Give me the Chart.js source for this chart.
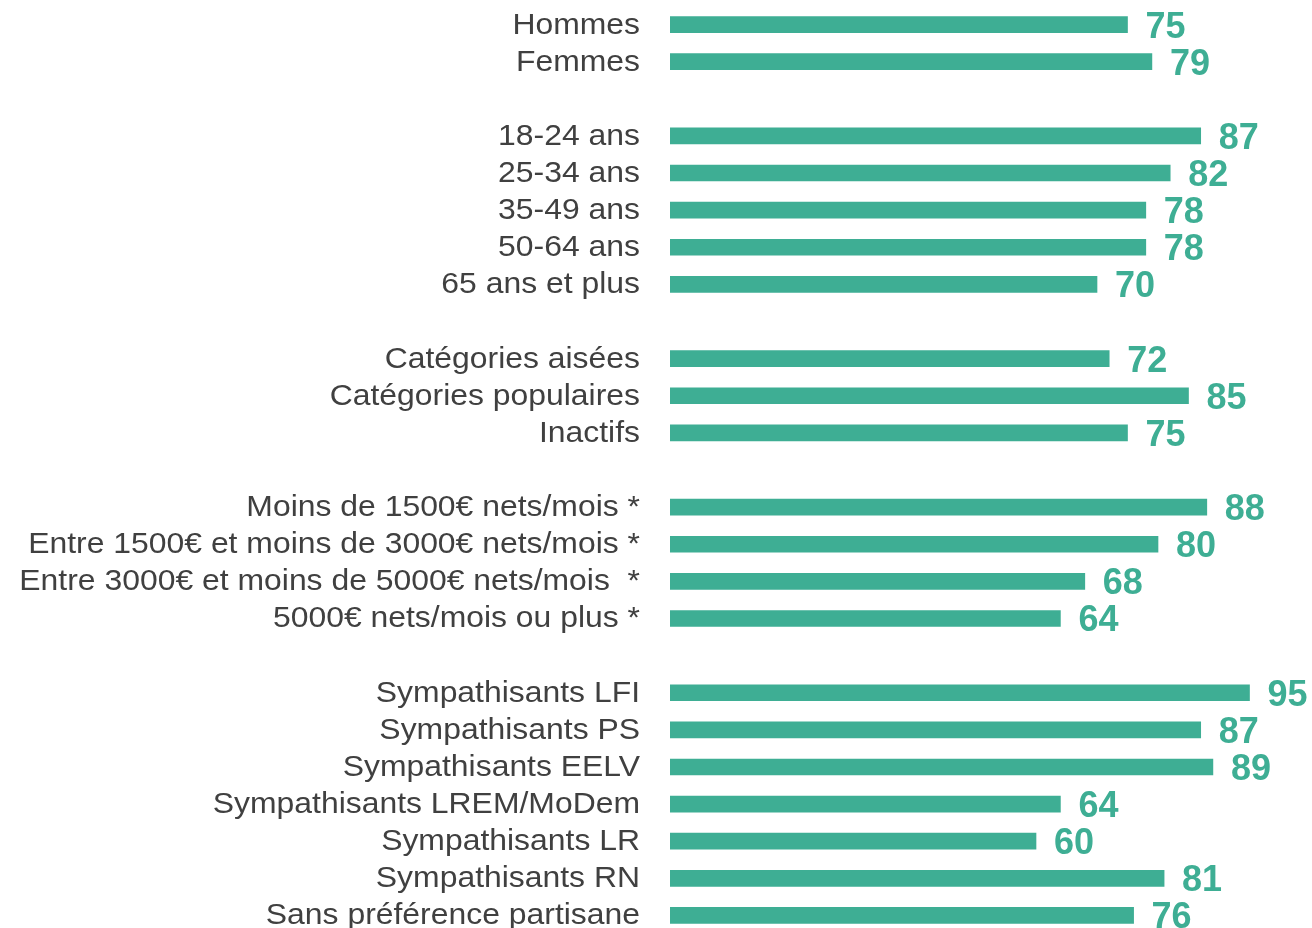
<!DOCTYPE html>
<html>
<head>
<meta charset="utf-8">
<script src="https://cdn.jsdelivr.net/npm/chart.js@4"></script>
<style>
  html, body { margin: 0; padding: 0; overflow: hidden; background: #fff; }
  #wrap { position: relative; width: 1312px; height: 934px; }
</style>
</head>
<body>
<div id="wrap"><canvas id="chart"></canvas></div>
<script>
// --- data ---
const sexeLabels = ["Hommes", "Femmes"];
const sexeValues = [75, 79];

const ageLabels = ["18-24 ans", "25-34 ans", "35-49 ans", "50-64 ans", "65 ans et plus"];
const ageValues = [87, 82, 78, 78, 70];

const cspLabels = ["Catégories aisées", "Catégories populaires", "Inactifs"];
const cspValues = [72, 85, 75];

const revenuLabels = [
    "Moins de 1500€ nets/mois *",
    "Entre 1500€ et moins de 3000€ nets/mois *",
    "Entre 3000€ et moins de 5000€ nets/mois  *",
    "5000€ nets/mois ou plus *"
];
const revenuValues = [88, 80, 68, 64];

const partiLabels = [
    "Sympathisants LFI", "Sympathisants PS", "Sympathisants EELV",
    "Sympathisants LREM/MoDem", "Sympathisants LR", "Sympathisants RN",
    "Sans préférence partisane"
];
const partiValues = [95, 87, 89, 64, 60, 81, 76];

// assemble rows with an empty row between groups
const groups = [
    [sexeLabels, sexeValues],
    [ageLabels, ageValues],
    [cspLabels, cspValues],
    [revenuLabels, revenuValues],
    [partiLabels, partiValues]
];
const labels = [];
const values = [];
groups.forEach(([l, v], gi) => {
    if (gi > 0) { labels.push(""); values.push(null); }
    l.forEach((name, i) => { labels.push(name); values.push(v[i]); });
});

const GREEN = "#3eae94";
const TEXT = "#404040";

// draws the category names and the value at the end of each bar
const labelPlugin = {
    id: "barLabels",
    afterDatasetsDraw(chart) {
        const ctx = chart.ctx;
        const meta = chart.getDatasetMeta(0);
        ctx.save();
        meta.data.forEach((bar, i) => {
            if (values[i] == null) return;
            const y = bar.y;
            // category name (slightly wide, like the original)
            ctx.save();
            ctx.translate(640, y + 9);
            ctx.scale(1.1, 1);
            ctx.font = "29px 'Liberation Sans', Arial, sans-serif";
            ctx.fillStyle = TEXT;
            ctx.textAlign = "right";
            ctx.textBaseline = "alphabetic";
            ctx.fillText(labels[i], 0, 0);
            ctx.restore();
            // value
            ctx.font = "bold 36px 'Liberation Sans', Arial, sans-serif";
            ctx.fillStyle = GREEN;
            ctx.textAlign = "left";
            ctx.textBaseline = "alphabetic";
            ctx.fillText(values[i], bar.x + 18, y + 13);
        });
        ctx.restore();
    }
};

const ctx = document.getElementById("chart").getContext("2d");
new Chart(ctx, {
    type: "bar",
    data: {
        labels: labels,
        datasets: [{
            data: values,
            backgroundColor: GREEN,
            borderWidth: 0,
            barThickness: 16
        }]
    },
    options: {
        indexAxis: "y",
        responsive: true,
        maintainAspectRatio: false,
        animation: false,
        layout: { padding: { top: 6, right: 32, bottom: 0, left: 0 } },
        plugins: {
            legend: { display: false },
            tooltip: { enabled: false }
        },
        scales: {
            x: { min: 0, max: 100, display: false },
            y: {
                ticks: { display: false },
                grid: { display: false, drawTicks: false },
                border: { display: false },
                afterFit(scale) { scale.width = 670; }
            }
        }
    },
    plugins: [labelPlugin]
});
</script>
</body>
</html>
